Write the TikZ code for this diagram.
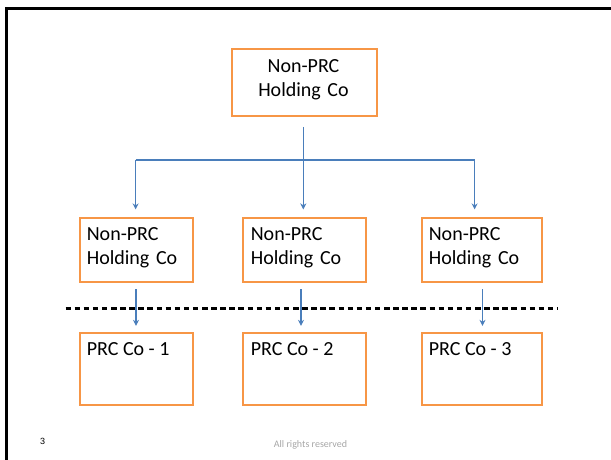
\documentclass[tikz,border=0pt]{standalone}
\usepackage{fontspec}
\setmainfont{Carlito}
\newfontfamily\arialfont{Liberation Sans}
\usetikzlibrary{arrows.meta,calc}
\definecolor{boxorange}{HTML}{F79646}
\definecolor{linkblue}{HTML}{4A7EBB}
\definecolor{footgray}{HTML}{A6A6A6}
\begin{document}
\begin{tikzpicture}[x=1pt,y=-1pt,
  orgbox/.style={draw=boxorange, line width=1.8pt, fill=white, inner sep=0pt},
  boxtext/.style={inner sep=0pt, font=\fontsize{20}{24.4}\selectfont},
  link/.style={draw=linkblue, line width=1.4pt},
  linkarrow/.style={link, -{Stealth[length=6pt,width=6pt]}}]
\useasboundingbox (0,0) rectangle (611,459);
% frame
\draw[line width=2.7pt, line join=miter] (6.3,470) -- (6.3,8.7) -- (620,8.7);
% boxes
\node[orgbox, minimum width=145.6pt, minimum height=67pt] (t) at (304.5,82.5) {};
\node[orgbox, minimum width=113pt, minimum height=64pt] (m1) at (136.5,250.3) {};
\node[orgbox, minimum width=122.4pt, minimum height=64pt] (m2) at (304.5,250.3) {};
\node[orgbox, minimum width=120pt, minimum height=64pt] (m3) at (482,250.3) {};
\node[orgbox, minimum width=113pt, minimum height=71.7pt] (b1) at (136.5,369.2) {};
\node[orgbox, minimum width=122.4pt, minimum height=71.7pt] (b2) at (304.5,369.2) {};
\node[orgbox, minimum width=120pt, minimum height=71.7pt] (b3) at (482,369.2) {};
% texts
\node[boxtext, anchor=base, text width=140pt, align=center] (tt) at (303.5,72.1) {Non-PRC\\Holding Co};
\node[boxtext, anchor=base west, text width=110pt, align=left] (m1t) at (86.6,240.5) {Non-PRC\\Holding Co};
\node[boxtext, anchor=base west, text width=110pt, align=left] (m2t) at (250.6,240.5) {Non-PRC\\Holding Co};
\node[boxtext, anchor=base west, text width=110pt, align=left] (m3t) at (428.6,240.5) {Non-PRC\\Holding Co};
\node[boxtext, anchor=base west] (b1t) at (86.6,355.8) {PRC Co - 1};
\node[boxtext, anchor=base west] (b2t) at (250.6,355.8) {PRC Co - 2};
\node[boxtext, anchor=base west] (b3t) at (428.6,355.8) {PRC Co - 3};
% dashed boundary
\coordinate (dashL) at (65.5,308.5);
\coordinate (dashR) at (557,308.5);
\draw[line width=2.2pt, dash pattern=on 5.5pt off 3.6pt] (dashL) -- (dashR);
% connectors
\coordinate (bus) at (303.3,160);
\coordinate (busL) at (135.6,160);
\coordinate (busR) at (474.6,160);
\draw[link, shorten <=10pt] (t.south -| bus) -- (bus);
\draw[link] (busL) -- (busR);
\draw[linkarrow, shorten >=8pt] (busL) -- (busL |- m1.north);
\draw[linkarrow, shorten >=8pt] (bus) -- (bus |- m2.north);
\draw[linkarrow, shorten >=8pt] (busR) -- (busR |- m3.north);
\coordinate (d1) at (136,282.3);
\coordinate (d2) at (301,282.3);
\coordinate (d3) at (482.5,282.3);
\draw[linkarrow, shorten <=7pt, shorten >=6.6pt] (d1) -- (d1 |- b1.north);
\draw[linkarrow, shorten <=7pt, shorten >=6.6pt] (d2) -- (d2 |- b2.north);
\draw[linkarrow, shorten <=7pt, shorten >=6.6pt] (d3) -- (d3 |- b3.north);
% footer
\node[font=\arialfont\fontsize{9}{10}\selectfont, inner sep=0pt] (pg) at (42.7,441.7) {3};
\node[font=\fontsize{10}{12}\selectfont, text=footgray, inner sep=0pt] (rights) at (310.5,445) {All rights reserved};
\end{tikzpicture}
\end{document}
